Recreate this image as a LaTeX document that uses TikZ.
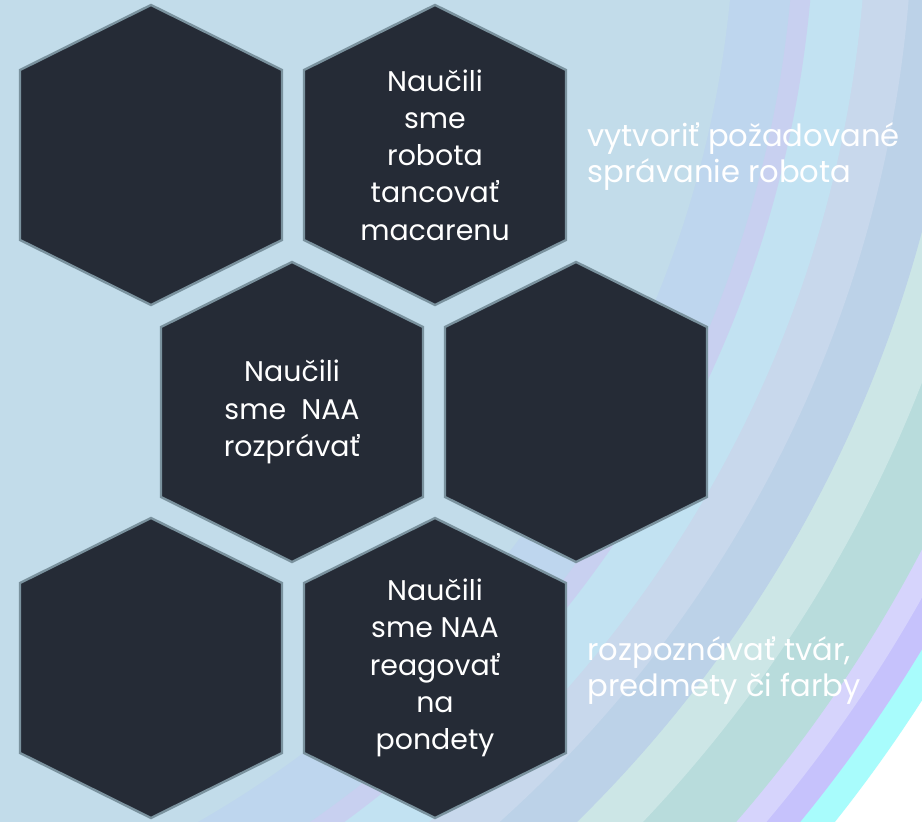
\documentclass[tikz,border=0pt]{standalone}
\usepackage{fontspec}
\setmainfont{Poppins}

\definecolor{hexfill}{HTML}{252B36}
\definecolor{hexline}{HTML}{7A929E}
\definecolor{bgbase}{HTML}{C2DCEA}
\definecolor{bgblueinner}{HTML}{BED6EE}
\definecolor{bglavthin}{HTML}{C8D0F0}
\definecolor{bglight}{HTML}{C2E2F2}
\definecolor{bggray}{HTML}{C8D8EC}
\definecolor{bgblue}{HTML}{BCD2E8}
\definecolor{bgmintlight}{HTML}{CCE6E6}
\definecolor{bgmint}{HTML}{B8DCDC}
\definecolor{bglavlight}{HTML}{D6D4FC}
\definecolor{bglav}{HTML}{C6C2FC}
\definecolor{bgcyan}{HTML}{A8FCFC}

\tikzset{
  hexcell/.style={fill=hexfill, draw=hexline, line width=1.2pt, line join=miter},
  hextext/.style={text=white, align=center, font=\fontsize{14.2}{18.6}\selectfont},
  sidetext/.style={text=white, align=left, anchor=base west, inner sep=0pt, font=\fontsize{15.3}{18.2}\selectfont}
}

% #1 name, #2 x, #3 y, #4 text
\newcommand{\honeycell}[4]{%
  \filldraw[hexcell] (#2,#3) ++(0,-150) -- ++(131,65) -- ++(0,170) -- ++(-131,65) -- ++(-131,-65) -- ++(0,-170) -- cycle;
  \node[hextext] (#1) at (#2,#3) {#4};}

\begin{document}
\begin{tikzpicture}[x=0.5pt,y=-0.5pt]
  \useasboundingbox (0,0) rectangle (922,822);
  \begin{scope}
    \clip (0,0) rectangle (922,822);
    \fill[white] (0,0) rectangle (922,822);
    \foreach \r/\c in {1491/bgcyan,1464/bglav,1438/bglavlight,1415/bgmint,1346/bgmintlight,1299/bgblue,1246/bggray,1200/bglight,1148/bglavthin,1128/bgblueinner,1068/bgbase} % background arcs
      \fill[\c] (-333,-105) circle (\r);
  \end{scope}

  \honeycell{hexA}{151}{155}{}
  \honeycell{hexB}{435}{155}{Naučili\\sme\\robota\\tancovať\\macarenu}
  \honeycell{hexC}{292}{412}{Naučili\\sme\ \ NAA\\rozprávať}
  \honeycell{hexD}{576}{412}{}
  \honeycell{hexE}{151}{668}{}
  \honeycell{hexF}{435}{668}{Naučili\\sme NAA\\reagovať\\na\\pondety}

  \node[sidetext] (goalA) at (587,183) {vytvoriť požadované\\správanie robota};
  \node[sidetext] (goalB) at (587,697) {rozpoznávať tvár,\\predmety či farby};
\end{tikzpicture}
\end{document}
